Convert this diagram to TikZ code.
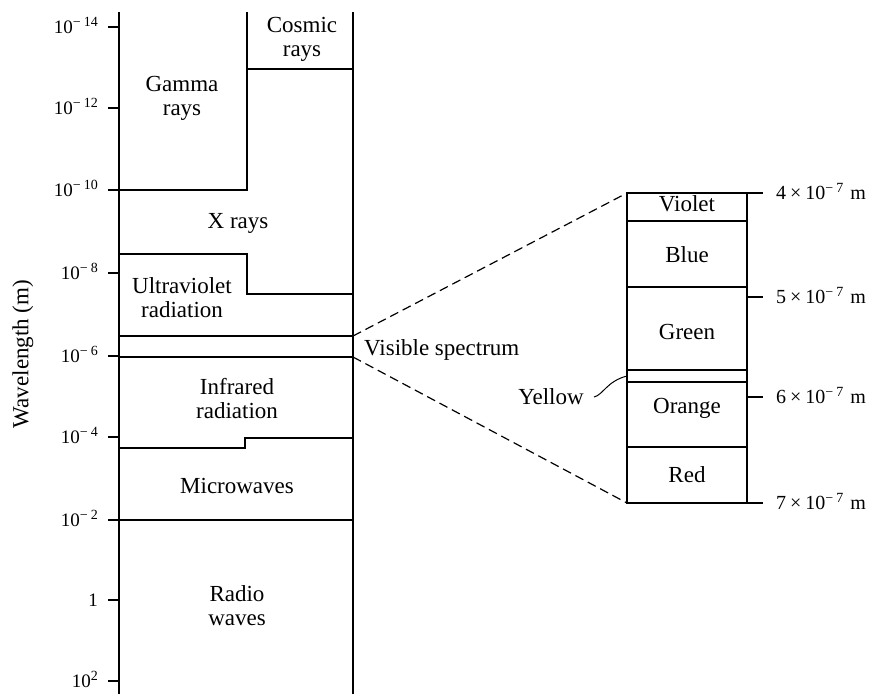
\documentclass[tikz,border=0pt]{standalone}
\usepackage{fontspec}
\setmainfont{Liberation Serif}
\newcommand{\mysup}[1]{\raisebox{0.8ex}{\fontsize{14}{14}\selectfont #1}}
\begin{document}
\begin{tikzpicture}[x=1pt,y=-1pt,
  band/.style={line width=1.8pt},
  thin band/.style={line width=1.2pt},
  ticky/.style={line width=1.3pt},
  lab/.style={font=\fontsize{23}{24}\selectfont, align=center, inner sep=0pt},
  ticklab/.style={font=\fontsize{19}{20}\selectfont, anchor=base east, inner sep=0pt},
  rlab/.style={font=\fontsize{20}{21}\selectfont, anchor=base west, inner sep=0pt},
  zoomline/.style={line width=1.2pt, dash pattern=on 9pt off 5pt}]
\useasboundingbox (0,0) rectangle (888,694);

% main column
\coordinate (ctl) at (119,12);
\coordinate (cbl) at (119,694);
\coordinate (ctr) at (353,12);
\coordinate (cbr) at (353,694);
\draw[band] (ctl) -- (cbl);
\draw[band] (ctr) -- (cbr);
% band boundaries
\draw[band] (247,12) -- (247,190) -- (119,190);
\draw[band] (247,69) -- (353,69);
\draw[band] (119,254) -- (247,254) -- (247,294) -- (353,294);
\coordinate (vistop) at (353,336);
\coordinate (visbot) at (353,357);
\draw[band] (119,336) -- (vistop);
\draw[band] (119,357) -- (visbot);
\draw[band] (119,448) -- (245,448) -- (245,438) -- (353,438);
\draw[band] (119,520) -- (353,520);

% ticks and labels
\foreach \y/\t [count=\i] in {27/10\mysup{−\hspace{3pt}14},108/10\mysup{−\hspace{3pt}12},190/10\mysup{−\hspace{3pt}10},273/10\mysup{−\hspace{3pt}8},356/10\mysup{−\hspace{3pt}6},437/10\mysup{−\hspace{3pt}4},520/10\mysup{−\hspace{3pt}2},600/1,681/10\mysup{2}}{
  \coordinate (tk\i) at (108,\y);
  \coordinate (tb\i) at (119,\y);
  \draw[ticky] (tk\i) -- (tb\i);
  \node[ticklab] (tl\i) at (98,\y+6.5) {\t};
}

\node[lab, rotate=90] (axis) at (23,354) {Wavelength (m)};

% band labels
\node[lab] (cosmic) at (302,39) {Cosmic\\rays};
\node[lab] (gamma) at (182,98.5) {Gamma\\rays};
\node[lab, anchor=base] (xray) at (238,228) {X rays};
\node[lab] (uv) at (182,297.5) {Ultraviolet\\radiation};
\node[lab] (ir) at (237,398.5) {Infrared\\radiation};
\node[lab, anchor=base] (micro) at (237,493) {Microwaves};
\node[lab] (radio) at (237,606) {Radio\\waves};
\node[lab, anchor=base west] (vis) at (364,355.5) {Visible spectrum};

% visible bar
\coordinate (btl) at (627,193);
\coordinate (bbl) at (627,503);
\draw[line width=2pt] (btl) rectangle (747,503);
\foreach \y in {221,287,370,382,447}{
  \draw[thin band] (627,\y) -- (747,\y);
}
\node[lab, anchor=base] (violet) at (687,211) {Violet};
\node[lab, anchor=base] (blue) at (687,262) {Blue};
\node[lab, anchor=base] (green) at (687,339) {Green};
\node[lab, anchor=base] (orange) at (687,413) {Orange};
\node[lab, anchor=base] (red) at (687,482) {Red};

% right ticks
\foreach \y/\d [count=\i] in {193/4,297/5,397/6,503/7}{
  \coordinate (rb\i) at (747,\y);
  \coordinate (rt\i) at (763,\y);
  \draw[ticky] (rb\i) -- (rt\i);
  \node[rlab] (rl\i) at (776,\y+6.5) {\d\hspace{4pt}×\hspace{4pt}10\mysup{−\hspace{3pt}7}\hspace{7pt}m};
}

% yellow
\node[lab, anchor=base] (yellow) at (551,404) {Yellow};
\coordinate (ys) at (594,397);
\coordinate (ye) at (627,376);
\draw[line width=1pt] (ys) .. controls (603,395) and (607,381) .. (ye);

% zoom lines
\draw[zoomline] (vistop) -- (btl);
\draw[zoomline] (visbot) -- (bbl);
\end{tikzpicture}
\end{document}
